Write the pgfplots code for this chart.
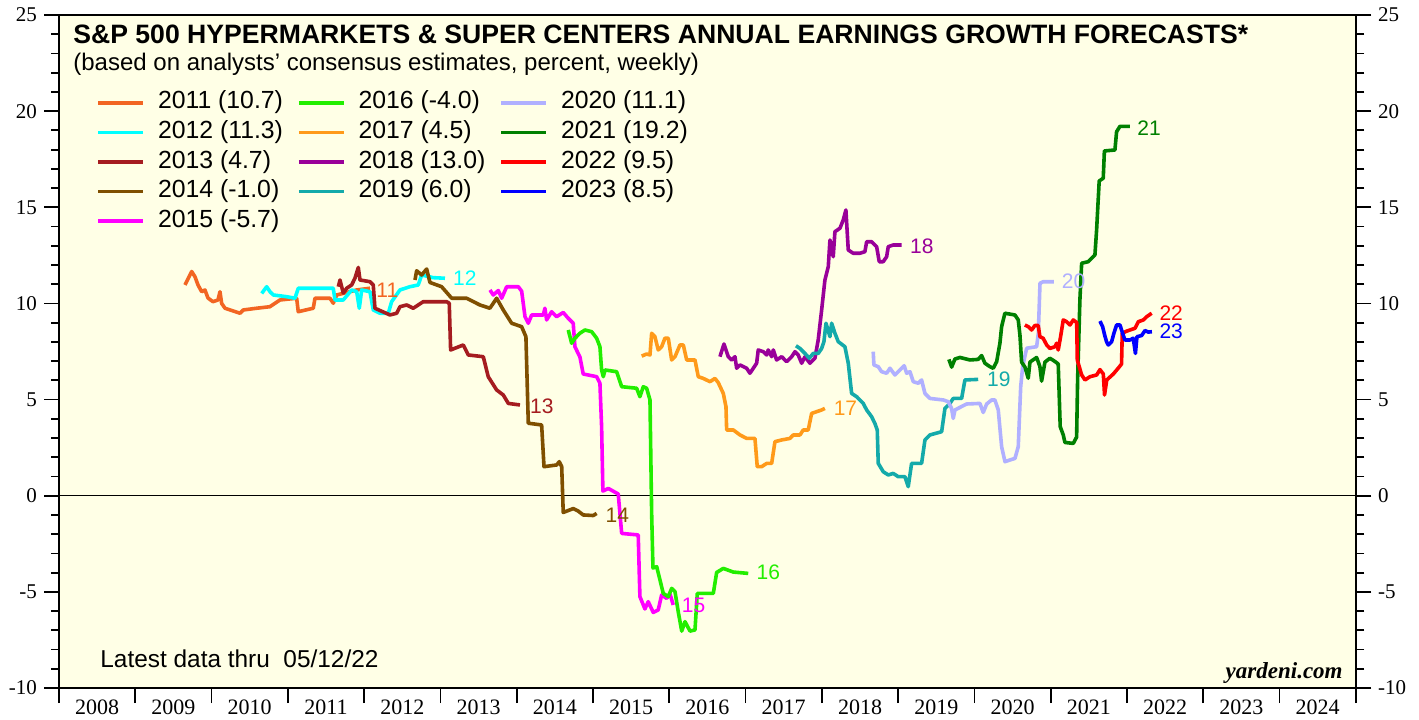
\documentclass[border=0pt]{standalone}
\usepackage{pgfplots}
\pgfplotsset{compat=1.18}
\usepackage{fontspec}
\setmainfont{Liberation Sans}
\newfontfamily\serif{Liberation Serif}
\definecolor{bgc}{HTML}{FFFFE6}
\definecolor{c11}{HTML}{F26522}
\definecolor{c12}{HTML}{00FFFF}
\definecolor{c13}{HTML}{A51C20}
\definecolor{c14}{HTML}{7F4F00}
\definecolor{c15}{HTML}{FF00FF}
\definecolor{c16}{HTML}{22EE00}
\definecolor{c17}{HTML}{FF9A1A}
\definecolor{c18}{HTML}{990099}
\definecolor{c19}{HTML}{14AAAA}
\definecolor{c20}{HTML}{B0B0FF}
\definecolor{c21}{HTML}{008000}
\definecolor{c22}{HTML}{FF0000}
\definecolor{c23}{HTML}{0000FF}
\pgfplotsset{
  common/.style={
    at={(0,0)}, anchor=south west,
    scale only axis, width=648.5pt, height=336.5pt,
    xmin=2008, xmax=2025, ymin=-10, ymax=25,
    ytick={-10,-5,...,25}, minor y tick num=4,
    tick align=outside,
    major tick length=7.5pt, minor tick length=4pt,
    every tick/.style={black, line width=0.9pt},
    axis line style={line width=1.3pt},
    yticklabel style={font=\serif\fontsize{10.5}{12}\selectfont},
    /pgf/number format/assume math mode=true,
    /pgf/number format/1000 sep={},
  },
  ser/.style={line width=1.8pt, line join=round, forget plot},
}
\begin{document}
\begin{tikzpicture}
\begin{axis}[common,
  axis background/.style={fill=bgc},
  xtick={2008,...,2025},
  x tick label as interval,
  xtick pos=bottom,
  ytick pos=both,
  yticklabel pos=left,
  xticklabel style={font=\serif\fontsize{11}{12}\selectfont, yshift=5pt},
  legend style={at={(axis description cs:0,1)}, anchor=north west,
    xshift=18.5pt, yshift=-36.3pt, draw=none, fill=none,
    font=\fontsize{12.4}{14}\selectfont, row sep=0pt, inner sep=0pt,
    nodes={inner xsep=2pt, inner ysep=1.4pt, text height=9pt, text depth=3pt},
    /tikz/every odd column/.append style={column sep=4.5pt},
    /tikz/every even column/.append style={column sep=5pt}},
  legend cell align=left,
  legend columns=3,
  legend image code/.code={\draw[#1, line width=1.8pt] (0pt,0pt) -- (22.5pt,0pt);},
]
\addplot[black, line width=0.5pt, forget plot] coordinates {(2008,0) (2025,0)};

% 2011
\addplot[ser, c11] coordinates {
(2009.651,10.96) (2009.739,11.66) (2009.782,11.39) (2009.822,10.96) (2009.870,10.61)
(2009.913,10.70) (2009.953,10.28) (2010.018,10.09) (2010.084,10.18) (2010.110,10.61)
(2010.132,10.00) (2010.176,9.75) (2010.372,9.49) (2010.415,9.66) (2010.591,9.75)
(2010.765,9.83) (2010.896,10.18) (2011.115,10.27) (2011.136,9.57) (2011.333,9.75)
(2011.355,10.27) (2011.551,10.27) (2011.595,10.01) (2011.640,10.44) (2011.902,10.70)
(2012.076,10.79)};
% 2012
\addplot[ser, c12] coordinates {
(2010.657,10.52) (2010.722,10.87) (2010.765,10.61) (2010.809,10.44) (2010.984,10.35)
(2011.093,10.27) (2011.136,10.79) (2011.421,10.79) (2011.595,10.79) (2011.617,10.18)
(2011.726,10.18) (2011.836,10.70) (2011.902,10.61) (2011.936,9.75) (2011.967,10.70)
(2012.076,10.61) (2012.119,9.66) (2012.207,9.49) (2012.316,9.49) (2012.360,10.09)
(2012.469,10.70) (2012.600,10.87) (2012.709,10.96) (2012.753,11.48) (2012.905,11.34)
(2013.059,11.31)};
% 2013
\addplot[ser, c13] coordinates {
(2011.661,10.87) (2011.683,11.22) (2011.726,10.54) (2011.771,10.79) (2011.836,10.96)
(2011.879,11.31) (2011.923,11.87) (2011.945,11.22) (2012.076,11.13) (2012.119,10.96)
(2012.141,9.75) (2012.338,9.40) (2012.426,9.49) (2012.469,9.83) (2012.557,9.92)
(2012.643,9.75) (2012.774,10.09) (2013.081,10.09) (2013.115,10.01) (2013.133,7.58)
(2013.299,7.84) (2013.364,7.32) (2013.561,7.23) (2013.626,6.19) (2013.736,5.50)
(2013.823,5.24) (2013.889,4.80) (2014.042,4.72)};
% 2014
\addplot[ser, c14] coordinates {
(2012.666,11.22) (2012.688,11.70) (2012.753,11.48) (2012.819,11.79) (2012.862,11.09)
(2013.015,10.87) (2013.147,10.27) (2013.343,10.27) (2013.517,9.92) (2013.648,9.75)
(2013.736,10.27) (2013.823,9.66) (2013.933,8.97) (2014.064,8.79) (2014.120,8.27)
(2014.151,3.77) (2014.326,3.68) (2014.357,1.51) (2014.523,1.60) (2014.557,1.77)
(2014.589,1.51) (2014.609,-0.87) (2014.740,-0.67) (2014.806,-0.80) (2014.871,-1.00)
(2015.003,-1.03) (2015.047,-0.92)};
% 2015
\addplot[ser, c15] coordinates {
(2013.649,10.70) (2013.692,10.44) (2013.758,10.67) (2013.802,10.27) (2013.868,10.87)
(2014.020,10.87) (2014.064,10.64) (2014.108,9.31) (2014.151,8.97) (2014.195,9.40)
(2014.347,9.40) (2014.369,9.75) (2014.391,9.14) (2014.457,9.57) (2014.522,9.31)
(2014.609,9.53) (2014.674,9.23) (2014.740,8.97) (2014.762,7.75) (2014.828,7.21)
(2014.871,6.33) (2015.047,6.19) (2015.090,5.85) (2015.112,3.59) (2015.129,0.24)
(2015.199,0.38) (2015.330,0.09) (2015.375,-1.96) (2015.592,-2.04) (2015.614,-5.25)
(2015.680,-5.89) (2015.723,-5.51) (2015.789,-6.07) (2015.854,-5.94) (2015.899,-5.16)
(2015.964,-5.34) (2016.008,-5.11) (2016.051,-5.68)};
% 2016
\addplot[ser, c16] coordinates {
(2014.675,8.62) (2014.719,7.93) (2014.763,8.19) (2014.828,8.45) (2014.894,8.62)
(2014.982,8.53) (2015.047,8.19) (2015.090,7.75) (2015.112,6.54) (2015.134,6.19)
(2015.156,6.54) (2015.309,6.45) (2015.375,5.67) (2015.571,5.59) (2015.614,5.15)
(2015.658,5.67) (2015.702,5.59) (2015.746,4.98) (2015.768,-0.92) (2015.785,-3.76)
(2015.834,-3.69) (2015.877,-4.38) (2015.920,-5.08) (2015.986,-5.25) (2016.030,-4.82)
(2016.074,-4.99) (2016.117,-6.05) (2016.162,-7.04) (2016.205,-6.55) (2016.271,-7.04)
(2016.336,-6.98) (2016.366,-5.08) (2016.576,-5.08) (2016.620,-3.99) (2016.707,-3.78)
(2016.838,-3.97) (2017.034,-4.04)};
% 2017
\addplot[ser, c17] coordinates {
(2015.637,7.26) (2015.702,7.37) (2015.746,7.32) (2015.768,8.45) (2015.811,8.27)
(2015.854,7.58) (2015.899,7.75) (2015.942,8.19) (2015.986,8.19) (2016.030,7.06)
(2016.074,7.23) (2016.139,7.84) (2016.183,7.84) (2016.227,7.06) (2016.336,7.06)
(2016.379,6.19) (2016.445,6.10) (2016.532,5.93) (2016.598,6.10) (2016.641,5.88)
(2016.707,5.32) (2016.742,4.63) (2016.751,3.42) (2016.838,3.42) (2016.926,3.16)
(2017.013,2.98) (2017.122,2.98) (2017.152,1.51) (2017.210,1.51) (2017.275,1.68)
(2017.341,1.68) (2017.384,2.81) (2017.472,2.90) (2017.580,2.98) (2017.624,3.16)
(2017.712,3.16) (2017.755,3.42) (2017.820,3.42) (2017.865,4.28) (2017.930,4.37)
(2017.996,4.46) (2018.039,4.54)};
% 2018
\addplot[ser, c18] coordinates {
(2016.663,7.23) (2016.716,7.89) (2016.772,7.23) (2016.816,7.06) (2016.860,7.23)
(2016.882,6.63) (2016.925,6.80) (2017.013,6.63) (2017.056,6.37) (2017.100,6.63)
(2017.144,6.89) (2017.165,7.58) (2017.231,7.49) (2017.275,7.32) (2017.296,7.58)
(2017.341,7.23) (2017.362,7.58) (2017.406,7.06) (2017.472,7.23) (2017.537,6.97)
(2017.603,7.23) (2017.646,7.49) (2017.689,7.32) (2017.734,6.89) (2017.777,7.23)
(2017.843,6.89) (2017.908,7.15) (2017.951,8.10) (2017.996,9.66) (2018.039,11.22)
(2018.083,11.91) (2018.105,13.30) (2018.148,12.43) (2018.170,13.73) (2018.236,13.91)
(2018.279,14.34) (2018.314,14.86) (2018.345,12.78) (2018.410,12.61) (2018.498,12.61)
(2018.563,12.69) (2018.586,13.21) (2018.651,13.21) (2018.717,12.95) (2018.751,12.17)
(2018.803,12.17) (2018.848,12.43) (2018.869,12.95) (2018.934,13.04) (2019.045,13.04)};
% 2019
\addplot[ser, c19] coordinates {
(2017.659,7.80) (2017.712,7.66) (2017.777,7.40) (2017.834,7.15) (2017.886,7.40)
(2017.952,7.40) (2017.996,7.66) (2018.026,8.01) (2018.053,8.97) (2018.105,8.27)
(2018.127,8.97) (2018.170,8.45) (2018.214,8.01) (2018.301,7.75) (2018.345,6.89)
(2018.389,5.32) (2018.455,5.15) (2018.541,4.80) (2018.586,4.46) (2018.651,4.11)
(2018.694,3.76) (2018.725,3.42) (2018.738,1.68) (2018.803,1.25) (2018.869,1.08)
(2018.934,1.16) (2019.000,0.99) (2019.088,0.99) (2019.131,0.47) (2019.175,1.68)
(2019.306,1.68) (2019.350,2.90) (2019.415,3.16) (2019.569,3.33) (2019.612,4.54)
(2019.678,4.80) (2019.721,5.06) (2019.831,5.06) (2019.874,6.02) (2020.048,6.05)};
% 2020
\addplot[ser, c20] coordinates {
(2018.672,7.49) (2018.681,6.80) (2018.738,6.71) (2018.782,6.45) (2018.848,6.37)
(2018.891,6.63) (2018.957,6.28) (2019.000,6.45) (2019.044,6.63) (2019.078,6.76)
(2019.110,6.37) (2019.153,6.45) (2019.197,5.93) (2019.262,5.85) (2019.306,6.02)
(2019.350,5.32) (2019.415,5.06) (2019.590,4.98) (2019.655,4.89) (2019.699,4.54)
(2019.721,4.02) (2019.743,4.46) (2019.896,4.77) (2020.071,4.80) (2020.114,4.33)
(2020.159,4.77) (2020.224,4.98) (2020.267,4.98) (2020.311,4.46) (2020.355,2.55)
(2020.399,1.77) (2020.465,1.86) (2020.530,1.94) (2020.573,2.55) (2020.605,5.67)
(2020.631,6.71) (2020.683,7.67) (2020.814,7.75) (2020.836,8.45) (2020.858,11.05)
(2020.901,11.13) (2021.041,11.13)};
% 2021
\addplot[ser, c21] coordinates {
(2019.664,7.09) (2019.700,6.69) (2019.743,7.11) (2019.809,7.19) (2019.940,7.06)
(2020.048,7.09) (2020.093,7.29) (2020.136,6.89) (2020.202,6.71) (2020.245,6.63)
(2020.290,6.97) (2020.333,7.94) (2020.355,8.79) (2020.398,9.49) (2020.529,9.40)
(2020.573,9.14) (2020.595,8.36) (2020.617,6.95) (2020.661,6.69) (2020.704,6.11)
(2020.726,6.95) (2020.814,7.19) (2020.857,6.71) (2020.879,5.96) (2020.923,6.95)
(2020.988,7.15) (2021.054,6.98) (2021.097,6.85) (2021.123,3.59) (2021.163,3.16)
(2021.185,2.77) (2021.294,2.72) (2021.338,3.05) (2021.351,6.02) (2021.381,10.18)
(2021.404,12.09) (2021.490,12.17) (2021.578,12.52) (2021.600,13.82) (2021.634,16.37)
(2021.687,16.51) (2021.702,17.93) (2021.840,17.98) (2021.862,18.93) (2021.906,19.21)
(2022.037,19.21)};
% 2022
\addplot[ser, c22] coordinates {
(2020.660,8.88) (2020.704,8.79) (2020.748,8.62) (2020.791,8.85) (2020.835,8.85)
(2020.857,8.27) (2020.900,8.19) (2020.945,7.84) (2020.988,7.66) (2021.054,7.75)
(2021.076,7.93) (2021.097,7.58) (2021.128,8.27) (2021.163,9.14) (2021.207,9.05)
(2021.251,8.88) (2021.294,9.14) (2021.339,9.01) (2021.347,7.06) (2021.404,6.28)
(2021.448,6.02) (2021.513,6.19) (2021.601,6.28) (2021.644,6.56) (2021.688,6.33)
(2021.704,5.24) (2021.733,6.02) (2021.819,6.33) (2021.885,6.64) (2021.927,6.85)
(2021.936,8.45) (2021.995,8.56) (2022.104,8.71) (2022.147,9.05) (2022.212,9.14)
(2022.257,9.31) (2022.322,9.49)};
% 2023
\addplot[ser, c23] coordinates {
(2021.644,9.08) (2021.679,8.79) (2021.709,8.30) (2021.732,7.99) (2021.753,7.84)
(2021.797,8.01) (2021.827,8.45) (2021.862,8.88) (2021.906,8.88) (2021.941,8.45)
(2021.971,8.10) (2022.037,8.10) (2022.080,8.19) (2022.109,7.40) (2022.129,8.27)
(2022.190,8.33) (2022.234,8.59) (2022.277,8.51) (2022.325,8.53)};

% legend (row-wise order)
\addlegendimage{c11}\addlegendentry{2011 (10.7)}
\addlegendimage{c16}\addlegendentry{2016 (-4.0)}
\addlegendimage{c20}\addlegendentry{2020 (11.1)}
\addlegendimage{c12}\addlegendentry{2012 (11.3)}
\addlegendimage{c17}\addlegendentry{2017 (4.5)}
\addlegendimage{c21}\addlegendentry{2021 (19.2)}
\addlegendimage{c13}\addlegendentry{2013 (4.7)}
\addlegendimage{c18}\addlegendentry{2018 (13.0)}
\addlegendimage{c22}\addlegendentry{2022 (9.5)}
\addlegendimage{c14}\addlegendentry{2014 (-1.0)}
\addlegendimage{c19}\addlegendentry{2019 (6.0)}
\addlegendimage{c23}\addlegendentry{2023 (8.5)}
\addlegendimage{c15}\addlegendentry{2015 (-5.7)}

\begin{scope}[every node/.style={anchor=west, inner sep=0pt, font=\fontsize{10.5}{12}\selectfont}]
\node[text=c11] at (axis cs:2012.155,10.7) {11};
\node[text=c12] at (axis cs:2013.16,11.3) {12};
\node[text=c13] at (axis cs:2014.17,4.66) {13};
\node[text=c14] at (axis cs:2015.16,-1.0) {14};
\node[text=c15] at (axis cs:2016.16,-5.68) {15};
\node[text=c16] at (axis cs:2017.14,-4.0) {16};
\node[text=c17] at (axis cs:2018.15,4.55) {17};
\node[text=c18] at (axis cs:2019.15,12.95) {18};
\node[text=c19] at (axis cs:2020.16,6.07) {19};
\node[text=c20] at (axis cs:2021.14,11.13) {20};
\node[text=c21] at (axis cs:2022.13,19.12) {21};
\node[text=c22] at (axis cs:2022.42,9.5) {22};
\node[text=c23] at (axis cs:2022.42,8.53) {23};
\end{scope}
\end{axis}
\begin{axis}[common,
  hide x axis,
  axis y line*=right,
  ytick pos=right,
  yticklabel pos=right,
]
\end{axis}
\node[anchor=base west, inner sep=0pt, font=\bfseries\fontsize{13.3}{15}\selectfont] at (7pt,322pt) {S\&P 500 HYPERMARKETS \& SUPER CENTERS ANNUAL EARNINGS GROWTH FORECASTS*};
\node[anchor=base west, inner sep=0pt, font=\fontsize{12}{14}\selectfont] at (7pt,308.5pt) {(based on analysts’ consensus estimates, percent, weekly)};
\node[anchor=base west, inner sep=0pt, font=\fontsize{12.2}{14}\selectfont] at (20.5pt,10.5pt) {Latest data thru\ \ 05/12/22};
\node[anchor=base east, inner sep=0pt, font=\serif\bfseries\itshape\fontsize{11.5}{13}\selectfont] at (642pt,5pt) {yardeni.com};
\pgfresetboundingbox
\path[use as bounding box] (-29.5pt,-15.5pt) rectangle (680pt,344pt);
\end{tikzpicture}
\end{document}
